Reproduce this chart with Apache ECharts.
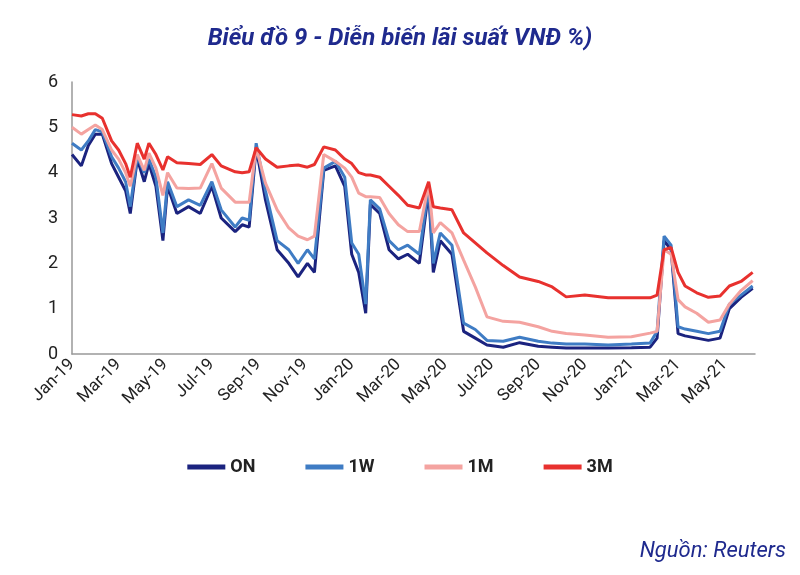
<!DOCTYPE html>
<html><head><meta charset="utf-8">
<script src="https://cdn.jsdelivr.net/npm/echarts@6/dist/echarts.min.js"></script>
<style>html,body{margin:0;padding:0;background:#fff}#c{width:800px;height:575px}</style>
</head><body><div id="c"></div>
<script>
const months = [0,0.4,0.7,1.0,1.3,1.7,2.0,2.3,2.5,2.8,3.1,3.3,3.6,3.9,4.1,4.5,5.0,5.5,6.0,6.4,7.0,7.3,7.6,7.9,8.3,8.8,9.3,9.7,10.1,10.4,10.8,11.3,11.7,12.0,12.3,12.6,12.8,13.2,13.6,14.0,14.4,14.9,15.3,15.5,15.8,16.3,16.8,17.3,17.8,18.5,19.2,20.0,20.6,21.2,22.0,23.0,24.0,24.8,25.1,25.4,25.7,26.0,26.3,26.8,27.3,27.8,28.2,28.7,29.2];
const s3M = [5.28,5.25,5.3,5.3,5.2,4.7,4.5,4.2,3.9,4.65,4.3,4.65,4.4,4.06,4.35,4.22,4.2,4.18,4.4,4.15,4.02,4.0,4.02,4.55,4.3,4.12,4.15,4.17,4.12,4.18,4.57,4.5,4.3,4.2,4.0,3.95,3.95,3.9,3.7,3.5,3.28,3.22,3.8,3.25,3.22,3.18,2.67,2.45,2.23,1.95,1.7,1.6,1.48,1.26,1.3,1.24,1.24,1.24,1.3,2.3,2.35,1.8,1.5,1.35,1.25,1.28,1.5,1.6,1.8];
const s1M = [5.0,4.85,4.95,5.05,4.95,4.5,4.3,4.0,3.7,4.4,4.05,4.43,4.1,3.5,4.0,3.66,3.65,3.66,4.2,3.66,3.35,3.35,3.35,4.55,3.77,3.18,2.78,2.6,2.52,2.6,4.4,4.25,4.1,3.9,3.55,3.47,3.47,3.45,3.1,2.85,2.7,2.7,3.75,2.67,2.9,2.67,2.07,1.48,0.82,0.72,0.7,0.6,0.5,0.45,0.42,0.37,0.38,0.46,0.5,2.3,2.2,1.2,1.04,0.9,0.7,0.75,1.1,1.4,1.62];
const s1W = [4.65,4.5,4.7,4.95,4.9,4.35,4.1,3.8,3.25,4.35,4.0,4.3,3.9,2.67,3.8,3.25,3.4,3.28,3.8,3.18,2.8,3.0,2.95,4.65,3.6,2.5,2.3,2.0,2.3,2.1,4.1,4.25,3.9,2.45,2.2,1.1,3.4,3.2,2.5,2.3,2.4,2.2,3.7,2.0,2.67,2.4,0.68,0.54,0.3,0.28,0.37,0.28,0.24,0.22,0.22,0.2,0.22,0.24,0.5,2.6,2.4,0.6,0.55,0.5,0.45,0.5,1.1,1.3,1.5];
const sON = [4.4,4.15,4.6,4.85,4.85,4.2,3.9,3.6,3.1,4.3,3.8,4.2,3.7,2.5,3.7,3.1,3.25,3.1,3.7,3.0,2.7,2.85,2.8,4.55,3.4,2.3,2.0,1.7,2.0,1.8,4.05,4.15,3.7,2.2,1.8,0.9,3.3,3.1,2.3,2.1,2.2,2.0,3.6,1.8,2.5,2.2,0.5,0.35,0.2,0.15,0.25,0.17,0.15,0.13,0.13,0.13,0.14,0.15,0.35,2.5,2.3,0.45,0.4,0.35,0.3,0.35,1.0,1.25,1.45];
const monthNames = ['Jan','Feb','Mar','Apr','May','Jun','Jul','Aug','Sep','Oct','Nov','Dec'];
const seriesNames = ['ON','1W','1M','3M'];
const colors = ['#1b237f','#3f7cc4','#f4a3a0','#e8312e'];
const vals = [sON,s1W,s1M,s3M];
const chart = echarts.init(document.getElementById('c'));
chart.setOption({
  animation:false,
  title:{text:'Biểu đồ 9 - Diễn biến lãi suất VNĐ %)',left:'center',top:22,
    textStyle:{color:'#1f2a8e',fontStyle:'italic',fontWeight:'bold',fontSize:24,fontFamily:'Roboto'}},
  graphic:[{type:'text',right:14,top:540,style:{text:'Nguồn: Reuters',fill:'#1f2a8e',font:'italic 22px Roboto'}}],
  legend:{bottom:94,left:'center',itemWidth:38,itemHeight:5,itemGap:50,icon:'rect',
    textStyle:{fontSize:18,fontWeight:'bold',color:'#222',fontFamily:'Roboto'},data:seriesNames},
  grid:{left:72,right:45,top:82,bottom:221,containLabel:false},
  xAxis:{type:'value',min:0,max:29.3,interval:2,
    axisLine:{lineStyle:{color:'#999',width:1.5}},axisTick:{show:false},splitLine:{show:false},
    axisLabel:{rotate:45,fontSize:17,color:'#222',fontFamily:'Roboto',showMaxLabel:false,
      formatter:v=>{const i=Math.round(v);return monthNames[i%12]+'-'+(19+Math.floor(i/12));}}},
  yAxis:{type:'value',min:0,max:6,interval:1,
    axisLine:{show:true,lineStyle:{color:'#999',width:1.5}},axisTick:{show:false},splitLine:{show:false},
    axisLabel:{fontSize:18,color:'#222',fontFamily:'Roboto',margin:14}},
  series:seriesNames.map((n,k)=>({name:n,type:'line',showSymbol:false,
    data:months.map((m,i)=>[m,vals[k][i]]),
    lineStyle:{width:3,color:colors[k]},itemStyle:{color:colors[k]},z:2+k}))
});
</script></body></html>
